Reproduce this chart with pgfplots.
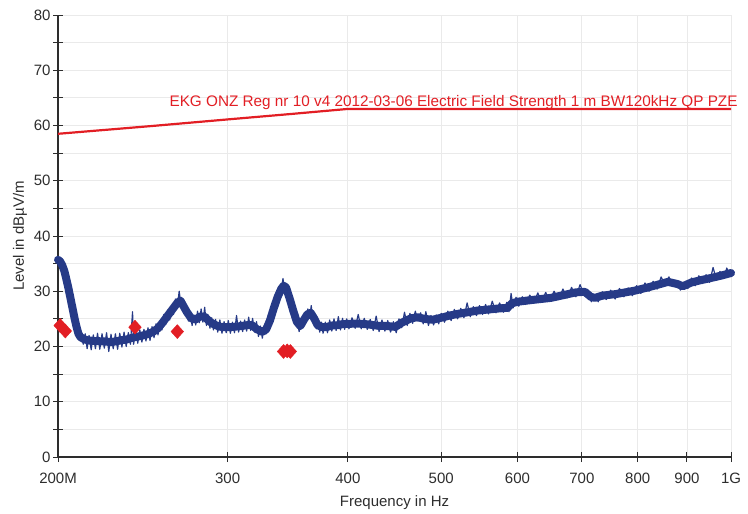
\documentclass[border=0pt]{standalone}
\usepackage{fontspec}
\setmainfont{Liberation Sans}
\usepackage{pgfplots}
\pgfplotsset{compat=1.18}
\definecolor{trace}{RGB}{38,58,135}
\definecolor{limitred}{RGB}{226,30,36}
\definecolor{gridgray}{RGB}{234,234,234}
\definecolor{axisgray}{RGB}{45,45,45}
\begin{document}
\begin{tikzpicture}
\begin{axis}[
    at={(0,0)}, anchor=south west,
    scale only axis,
    width=673bp, height=442bp,
    xmode=log,
    xmin=200, xmax=1000,
    ymin=0, ymax=80,
    axis lines*=left,
    axis line style={axisgray, line width=1.3bp},
    xtick={200,300,400,500,600,700,800,900,1000},
    xticklabels={200M,300,400,500,600,700,800,900,1G},
    ytick={0,10,...,80},
    minor ytick={5,15,...,75},
    tick align=center,
    major tick length=10bp, minor tick length=10bp,
    tick style={axisgray, line width=1bp},
    grid=both,
    major grid style={gridgray, line width=0.8bp},
    minor grid style={gridgray, line width=0.8bp},
    /pgf/number format/assume math mode=true,
    ticklabel style={font=\fontsize{15bp}{17bp}\selectfont, text=axisgray},
    xticklabel style={yshift=-8bp},
    yticklabel style={xshift=1bp},
    xlabel={Frequency in Hz},
    ylabel={Level in dBµV/m},
    label style={font=\fontsize{15bp}{17bp}\selectfont, text=axisgray},
    xlabel style={at={(axis description cs:0.5,-0.1109)}, anchor=base},
    ylabel style={at={(axis description cs:-0.0565,0.5)}, anchor=center},
    clip=false,
]
% limit line
\addplot[limitred, line width=2.2bp] coordinates {
  (200,58.5) (250,59.9) (300,61.1) (350,62.1) (400,63.0) (1000,63.0)
};
% measured trace: middle of the noise band
\addplot[trace, line width=8bp, line join=round, line cap=round] coordinates {
(200,35.7) (201,35.4) (202,34.7) (203,33.7) (204,32.2) (205,30.6) (206,28.8)
(207,27.0) (208,25.2) (209,23.6) (210,22.3) (211,21.7) (213,21.3) (215,21.1)
(218,21.0) (221,20.95) (224,20.9) (227,20.8) (230,20.95) (233,21.15) (236,21.3)
(239,21.6) (242,21.8) (245,22.0) (248,22.25) (251,22.65) (254,23.3) (257,24.4)
(260,25.6) (263,26.75) (266,27.9) (268,28.3) (270,27.3) (272,26.3) (275,25.1)
(278,24.9) (281,25.45) (284,25.4) (287,24.6) (290,24.05) (294,23.6) (298,23.5)
(302,23.5) (306,23.6) (310,23.7) (314,23.85) (318,23.85) (322,23.1) (326,22.65)
(329,23.1) (332,24.7) (335,26.9) (338,28.9) (341,30.4) (343,31.0) (345,30.7)
(348,28.7) (351,26.5) (354,24.5) (357,23.7) (360,24.8) (363,25.8) (366,26.1)
(369,25.1) (372,23.9) (376,23.5) (380,23.5) (385,23.8) (390,23.85) (395,24.05)
(400,24.1) (410,24.15) (420,24.0) (430,23.75) (440,23.7) (448,23.55) (455,24.3)
(465,25.1) (473,25.3) (480,25.0) (490,24.85) (500,25.2) (510,25.6) (520,25.9)
(533,26.2) (545,26.5) (560,26.7) (575,26.9) (586,27.0) (592,27.8) (600,28.1)
(620,28.4) (650,28.8) (670,29.3) (690,29.8) (705,29.9) (715,29.0) (722,28.8)
(735,29.2) (760,29.5) (794,30.1) (820,30.7) (840,31.2) (860,31.7) (880,31.3)
(891,30.9) (910,31.6) (930,32.0) (953,32.4) (975,32.8) (1000,33.3)
};
% single sweep values with the spikes of the trace
\addplot[trace, line width=1.2bp, line join=round] coordinates {
(200,36.3) (200.6,35.0) (201.2,36.0) (201.8,34.6) (202.4,34.9) (203.0,33.2)
(203.6,33.5) (204.2,31.6) (204.8,31.8) (205.4,29.6) (206.0,29.5) (206.6,27.4)
(207.2,27.5) (207.8,24.8) (208.4,25.0) (209.0,22.9) (209.8,23.6) (210.6,21.2)
(211.5,22.6) (212.4,20.4) (213.4,22.3) (214.4,19.6) (215.4,22.0) (216.5,19.4)
(217.6,22.1) (218.7,19.6) (219.8,22.4) (221,19.5) (222.2,22.3) (223.4,19.7)
(224.6,22.5) (225.8,19.1) (227,22.2) (228.2,19.6) (229.4,22.3) (230.6,19.5)
(231.8,22.4) (233,19.9) (234.2,22.6) (235.4,20.0) (236.6,22.5) (237.8,20.4)
(239,26.3) (239.6,20.4) (240.8,22.9) (242,20.6) (243.2,23.0) (244.4,20.8)
(245.6,23.1) (246.8,21.0) (248,23.4) (249.2,21.1) (250.4,23.6) (251.6,21.6)
(252.8,24.1) (254,22.1) (255.2,24.6) (256.4,23.0) (257.6,25.8) (258.8,24.0)
(260,26.6) (261.2,24.8) (262.4,27.3) (263.6,25.8) (264.8,28.6) (266,27.0)
(267.2,30.0) (268.4,27.5) (269.6,28.6) (270.8,26.1) (272,26.9) (273.2,24.6)
(274.4,25.8) (275.6,23.8) (276.8,25.7) (278,23.9) (279.2,26.4) (280.4,24.3)
(281.6,26.8) (282.8,24.4) (284,27.1) (285.2,23.8) (286.4,25.7) (287.6,23.3)
(288.8,25.2) (290,23.0) (291.5,24.9) (293,22.6) (294.5,24.8) (296,22.4)
(297.5,24.5) (299,22.5) (300.5,24.7) (302,22.4) (303.5,24.4) (305,22.5)
(306.5,25.6) (308,22.6) (309.5,24.6) (311,22.7) (312.5,24.8) (314,22.8)
(315.5,25.3) (317,22.9) (318.5,25.1) (320,22.6) (321.5,24.5) (323,21.8)
(324.5,23.7) (326,21.5) (327.5,23.8) (329,22.3) (330.5,25.2) (332,24.4)
(333.5,27.2) (335,26.4) (336.5,29.2) (338,28.3) (339.5,30.8) (341,30.0)
(342.5,32.3) (344,30.3) (345.5,31.2) (347,28.7) (348.5,28.8) (350,26.5)
(351.5,26.5) (353,24.4) (354.5,24.5) (356,22.7) (357.5,24.2) (359,24.0)
(360.5,25.8) (362,24.8) (363.5,26.8) (365,25.1) (366.5,27.4) (368,24.6)
(369.5,25.6) (371,23.2) (372.5,24.5) (374,22.6) (375.5,24.4) (377,22.4)
(379,24.4) (381,22.5) (383,24.8) (385,22.8) (387,25.0) (389,22.9)
(391,25.4) (393,23.0) (395,25.1) (397,23.1) (399,25.0) (401,23.2)
(404,25.2) (407,23.3) (410,25.8) (413,23.2) (416,25.1) (419,23.1)
(422,24.9) (425,22.9) (428,25.5) (431,22.7) (434,24.8) (437,22.8)
(440,24.7) (443,22.6) (446,24.5) (449,22.5) (452,25.0) (455,23.4)
(458,26.2) (461,23.8) (464,26.0) (467,24.2) (470,26.4) (473,24.6)
(476,26.1) (479,24.1) (482,26.3) (485,23.8) (488,25.6) (491,23.9)
(494,25.7) (497,24.1) (500,26.0) (504,24.4) (508,26.4) (512,24.7)
(516,26.7) (520,25.0) (524,26.9) (528,25.2) (532,27.9) (536,25.4)
(540,27.2) (544,25.6) (548,27.4) (552,25.8) (556,27.6) (560,25.9)
(565,28.2) (570,26.1) (575,27.9) (580,26.2) (585,28.0) (588,26.3)
(591,29.6) (594,27.0) (598,28.9) (602,27.3) (607,29.0) (612,27.6)
(618,29.3) (624,27.9) (630,29.7) (636,28.0) (642,29.8) (648,28.2)
(655,30.0) (662,28.5) (669,30.4) (676,28.8) (683,30.7) (690,29.0)
(697,31.2) (704,29.2) (710,30.0) (716,28.1) (722,29.4) (728,28.1)
(735,29.9) (742,28.5) (750,30.2) (758,28.6) (766,30.5) (774,29.0)
(782,30.6) (790,29.2) (798,31.0) (806,29.6) (814,31.5) (822,30.0)
(830,31.8) (838,30.4) (846,32.6) (854,31.1) (862,32.6) (870,31.0)
(878,31.9) (886,30.2) (894,31.6) (902,30.5) (910,32.4) (918,31.0)
(926,32.8) (934,31.4) (942,33.0) (950,31.6) (958,34.3) (966,32.0)
(974,33.6) (982,32.3) (990,34.2) (996,32.8) (1000,33.9)
};
% quasi-peak results
\addplot[only marks, mark=diamond*, mark size=7bp, mark options={xscale=1.2}, color=limitred] coordinates {
  (201,23.8) (203.5,22.8) (240.4,23.5) (266,22.7) (343,19.1) (346,19.2) (348.6,19.1)
};
\node[anchor=base west, text=limitred, font=\fontsize{15.3bp}{17bp}\selectfont, inner sep=0pt]
  at (axis cs:261,63.5) {EKG ONZ Reg nr 10 v4 2012-03-06 Electric Field Strength 1 m BW120kHz QP PZE};
\end{axis}
\path (-58bp,-57bp) (690bp,457bp);
\end{tikzpicture}
\end{document}
